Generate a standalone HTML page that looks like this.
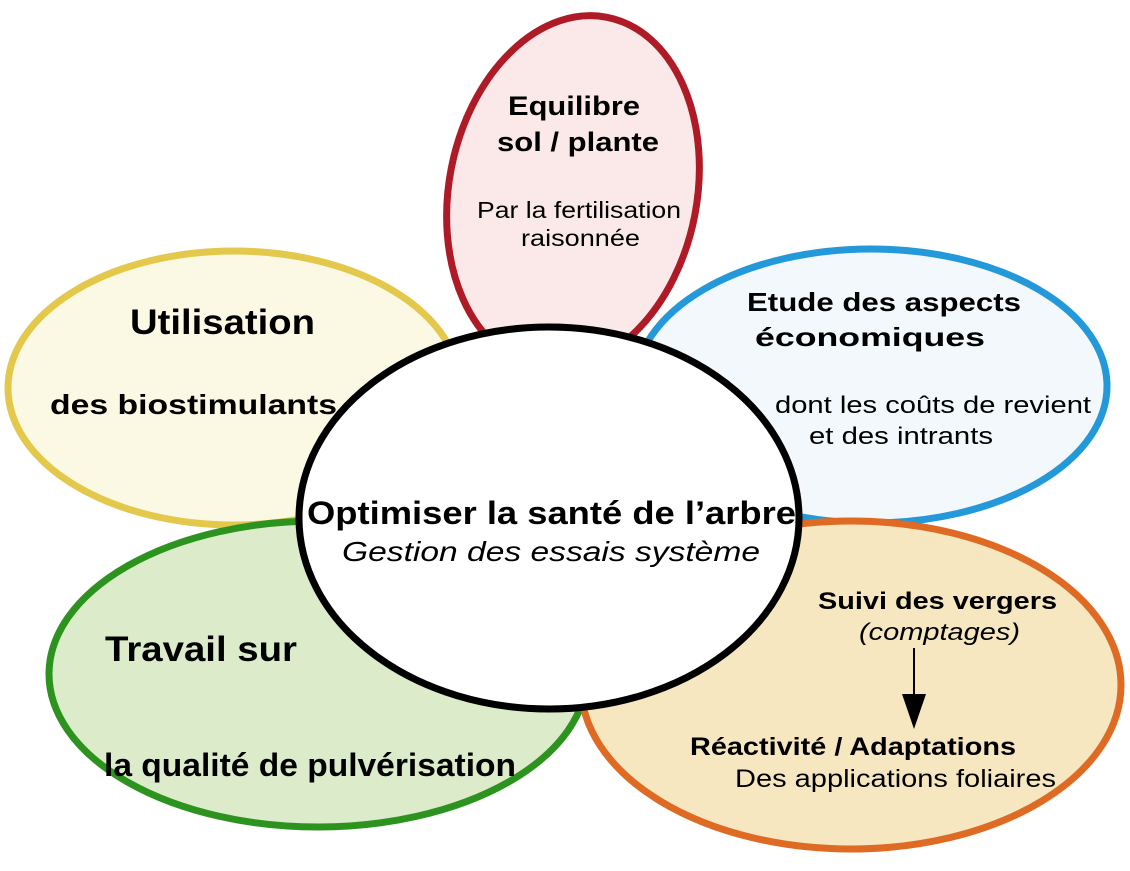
<!DOCTYPE html>
<html><head><meta charset="utf-8"><style>
html,body{margin:0;padding:0;background:#fff;width:1130px;height:871px;overflow:hidden}
text{font-family:"Liberation Sans",Arial,sans-serif;fill:#000}
.b{font-weight:bold}
</style></head><body>
<svg width="1130" height="871" viewBox="0 0 1130 871" xmlns="http://www.w3.org/2000/svg">
<ellipse cx="573" cy="192" rx="124" ry="178" transform="rotate(11 573 192)" fill="#fbe9e9" stroke="#ae1b27" stroke-width="7"/>
<ellipse cx="234" cy="388" rx="226" ry="137" fill="#fbf9e4" stroke="#e4c84b" stroke-width="7"/>
<ellipse cx="871" cy="386" rx="236" ry="137" fill="#f2f8fb" stroke="#2499da" stroke-width="7"/>
<ellipse cx="318" cy="674" rx="269" ry="153" fill="#dcebca" stroke="#2d931f" stroke-width="7"/>
<ellipse cx="851" cy="685" rx="270" ry="164" fill="#f6e7c0" stroke="#de6a24" stroke-width="7"/>
<ellipse cx="549" cy="518" rx="250" ry="191" fill="#fff" stroke="#000" stroke-width="7"/>

<text class="b" x="508" y="115" font-size="27" textLength="132" lengthAdjust="spacingAndGlyphs">Equilibre</text>
<text class="b" x="497" y="151" font-size="27" textLength="162" lengthAdjust="spacingAndGlyphs">sol / plante</text>
<text x="477" y="218" font-size="23" textLength="204" lengthAdjust="spacingAndGlyphs">Par la fertilisation</text>
<text x="521" y="246" font-size="23" textLength="119" lengthAdjust="spacingAndGlyphs">raisonnée</text>

<text class="b" x="130" y="334" font-size="35" textLength="185" lengthAdjust="spacingAndGlyphs">Utilisation</text>
<text class="b" x="50" y="414" font-size="28" textLength="287" lengthAdjust="spacingAndGlyphs">des biostimulants</text>

<text class="b" x="747" y="311" font-size="26" textLength="274" lengthAdjust="spacingAndGlyphs">Etude des aspects</text>
<text class="b" x="755" y="346" font-size="26" textLength="230" lengthAdjust="spacingAndGlyphs">économiques</text>
<text x="775" y="413" font-size="24" textLength="316" lengthAdjust="spacingAndGlyphs">dont les coûts de revient</text>
<text x="809" y="444" font-size="24" textLength="184" lengthAdjust="spacingAndGlyphs">et des intrants</text>

<text class="b" x="307" y="524" font-size="32" textLength="489" lengthAdjust="spacingAndGlyphs">Optimiser la santé de l’arbre</text>
<text x="342" y="561" font-size="28" font-style="italic" textLength="418" lengthAdjust="spacingAndGlyphs">Gestion des essais système</text>

<text class="b" x="105" y="661" font-size="35" textLength="192" lengthAdjust="spacingAndGlyphs">Travail sur</text>
<text class="b" x="104" y="776" font-size="32" textLength="412" lengthAdjust="spacingAndGlyphs">la qualité de pulvérisation</text>

<text class="b" x="818" y="609" font-size="24" textLength="239" lengthAdjust="spacingAndGlyphs">Suivi des vergers</text>
<text x="859" y="640" font-size="24" font-style="italic" textLength="161" lengthAdjust="spacingAndGlyphs">(comptages)</text>
<text class="b" x="690" y="755" font-size="25" textLength="326" lengthAdjust="spacingAndGlyphs">Réactivité / Adaptations</text>
<text x="735" y="787" font-size="25" textLength="321" lengthAdjust="spacingAndGlyphs">Des applications foliaires</text>

<line x1="914" y1="648" x2="914" y2="697" stroke="#000" stroke-width="2"/>
<polygon points="902,694 926,694 914,729" fill="#000"/>
</svg>
</body></html>
